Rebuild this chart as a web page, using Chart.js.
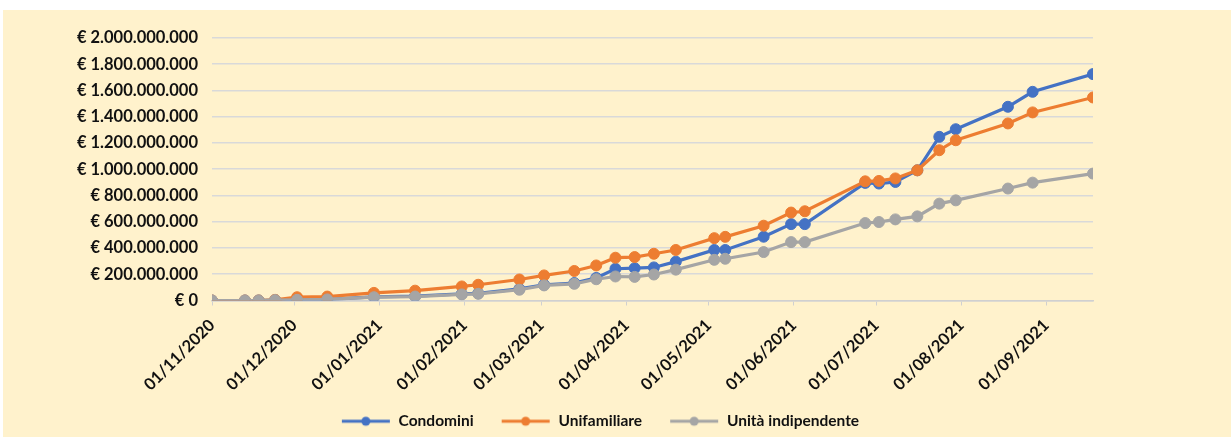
<!DOCTYPE html>
<html>
<head>
<meta charset="utf-8">
<script src="https://cdn.jsdelivr.net/npm/chart.js@4/dist/chart.umd.min.js"></script>
<style>
  html, body { margin: 0; padding: 0; background: #ffffff; width: 1231px; height: 437px; overflow: hidden; }
  #wrap { position: absolute; left: 3px; top: 10px; width: 1228px; height: 427px; background: #FFF2CC; }
  canvas { display: block; }
</style>
</head>
<body>
<div id="wrap"><canvas id="c" width="1228" height="427"></canvas></div>
<script>
// ---- Data (values in millions of euro) ----
const dates = [
  '01/11/2020','13/11/2020','18/11/2020','24/11/2020','02/12/2020','13/12/2020','30/12/2020',
  '14/01/2021','31/01/2021','06/02/2021','21/02/2021','02/03/2021','13/03/2021','21/03/2021',
  '28/03/2021','04/04/2021','11/04/2021','19/04/2021','03/05/2021','07/05/2021','21/05/2021',
  '31/05/2021','05/06/2021','27/06/2021','02/07/2021','08/07/2021','16/07/2021','24/07/2021',
  '30/07/2021','18/08/2021','27/08/2021','18/09/2021'
];
const condominiMln = [0,0,0,3,5,8,28,33,50,55,88,120,133,172,242,246,252,296,385,385,486,582,582,896,891,903,992,1247,1305,1476,1590,1725];
const unifamiliareMln = [0,0,0,5,25,30,58,75,107,120,160,191,225,267,326,331,356,385,475,485,570,670,680,908,911,930,992,1145,1221,1349,1433,1547];
const unitaIndipMln = [0,0,0,3,5,8,25,30,46,51,82,115,127,162,183,180,198,235,310,318,369,445,445,590,598,618,641,738,763,853,898,967];
const seriesNames = ['Condomini', 'Unifamiliare', 'Unità indipendente'];
const xTickLabels = ['01/11/2020','01/12/2020','01/01/2021','01/02/2021','01/03/2021','01/04/2021','01/05/2021','01/06/2021','01/07/2021','01/08/2021','01/09/2021'];

const colors = ['#4472C4', '#ED7D31', '#A5A5A5'];

function dayIndex(s) {
  const [d, m, y] = s.split('/').map(Number);
  return Math.round((Date.UTC(y, m - 1, d) - Date.UTC(2020, 10, 1)) / 86400000);
}
const xDays = dates.map(dayIndex);
const tickDays = xTickLabels.map(dayIndex);

function pts(vals) { return vals.map((v, i) => ({ x: xDays[i], y: v * 1e6 })); }

function fmtEuro(v) {
  const s = Math.round(v).toString().replace(/\B(?=(\d{3})+(?!\d))/g, '.');
  return '€ ' + s;
}

function legendIcon(color) {
  const c = document.createElement('canvas');
  c.width = 70; c.height = 14;
  const g = c.getContext('2d');
  g.strokeStyle = color; g.lineWidth = 3;
  g.beginPath(); g.moveTo(21, 7); g.lineTo(69, 7); g.stroke();
  g.fillStyle = color;
  g.beginPath(); g.arc(45, 7, 4.5, 0, Math.PI * 2); g.fill();
  return c;
}
const icons = colors.map(legendIcon);

const allSeries = [condominiMln, unifamiliareMln, unitaIndipMln];
const datasets = allSeries.map((vals, i) => ({
  label: seriesNames[i],
  data: pts(vals),
  borderColor: colors[i],
  backgroundColor: colors[i],
  pointBackgroundColor: colors[i],
  pointBorderColor: colors[i],
  pointRadius: 5.5,
  pointBorderWidth: 1,
  borderWidth: 3.2,
  tension: 0,
  order: 2 - i
}));

const FONT = 'Lato, "Open Sans", sans-serif';

const shiftLegend = {
  id: 'shiftLegend',
  afterLayout(chart) {
    const lg = chart.legend;
    if (lg) { lg.left += 42; lg.right += 42; lg.top += 2; lg.bottom += 2; }
  }
};

new Chart(document.getElementById('c'), {
  type: 'line',
  data: { datasets },
  plugins: [shiftLegend],
  options: {
    responsive: false,
    animation: false,
    events: [],
    layout: { padding: { top: 28, right: 138, bottom: 0, left: 0 } },
    plugins: {
      tooltip: { enabled: false },
      legend: {
        position: 'bottom',
        labels: {
          usePointStyle: true,
          pointStyleWidth: 70,
          boxHeight: 14,
          padding: 7,
          color: '#111',
          font: { family: FONT, size: 15.5, weight: 'bold' },
          generateLabels: (chart) => chart.data.datasets.map((ds, i) => ({
            text: ds.label,
            pointStyle: icons[i],
            fillStyle: colors[i],
            strokeStyle: colors[i],
            lineWidth: 0,
            fontColor: '#111',
            hidden: false,
            datasetIndex: i
          }))
        }
      }
    },
    scales: {
      x: {
        type: 'linear',
        min: 0,
        max: xDays[xDays.length - 1],
        afterBuildTicks: (scale) => { scale.ticks = tickDays.map(v => ({ value: v })); },
        afterFit: (scale) => { scale.height = 104; },
        ticks: {
          autoSkip: false,
          minRotation: 45,
          maxRotation: 45,
          padding: 10,
          color: '#111',
          font: { family: FONT, size: 16.5, weight: 'bold' },
          callback: (v) => { const k = tickDays.indexOf(v); return k >= 0 ? xTickLabels[k] : ''; }
        },
        grid: { drawOnChartArea: false, drawTicks: true, tickLength: 5, color: '#d0d0d0', lineWidth: 1 },
        border: { display: true, color: '#d0d0d0', width: 1.5 }
      },
      y: {
        min: 0,
        max: 2000000000,
        afterFit: (scale) => { scale.width = 209; },
        ticks: {
          stepSize: 200000000,
          padding: 14,
          color: '#111',
          font: { family: FONT, size: 16.5, weight: 'bold' },
          callback: (v) => fmtEuro(v)
        },
        grid: { drawTicks: false, color: '#d9d9d9', lineWidth: 1.6 },
        border: { display: false }
      }
    }
  }
});
</script>
</body>
</html>
